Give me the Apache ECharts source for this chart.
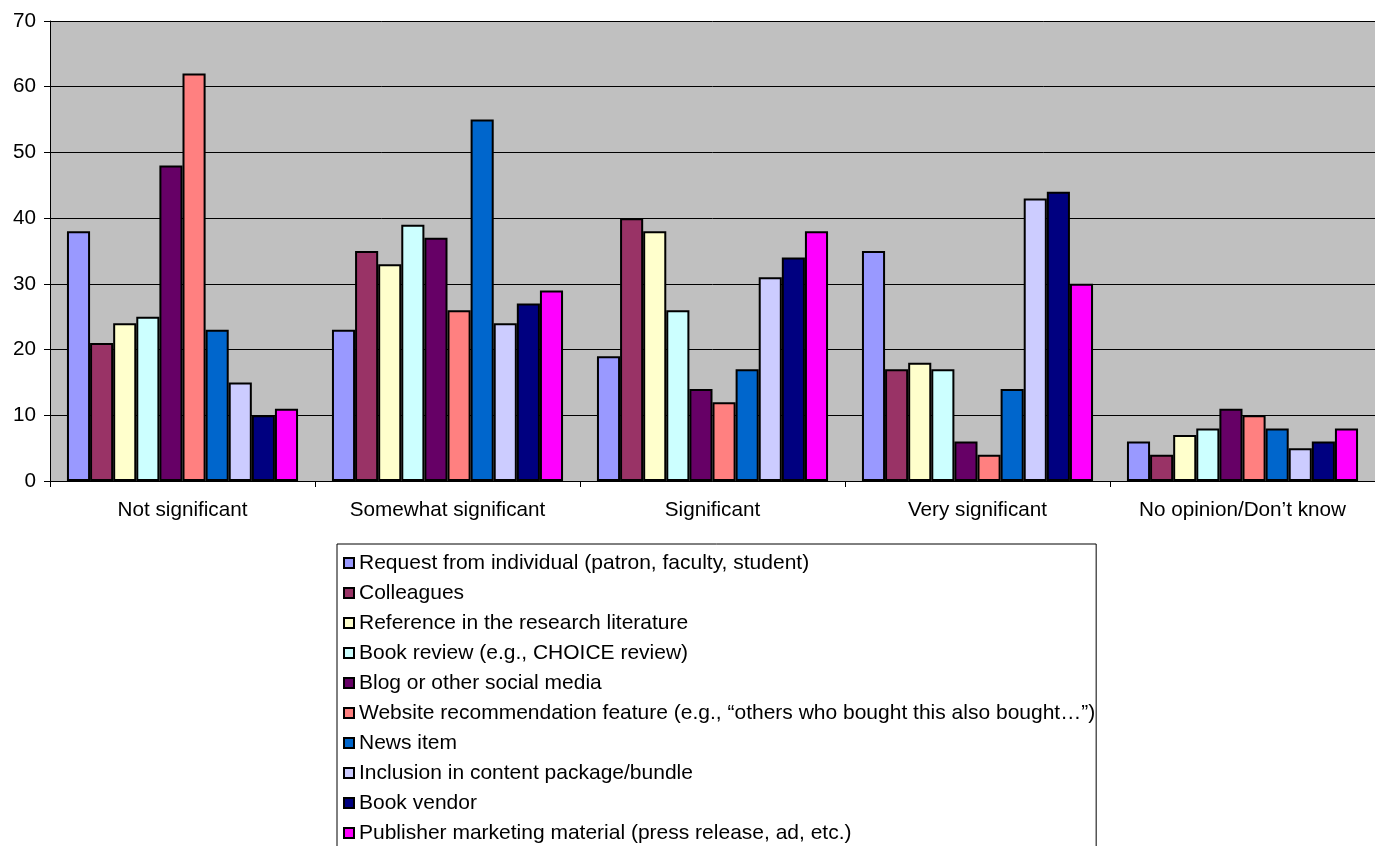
<!DOCTYPE html>
<html>
<head>
<meta charset="utf-8">
<script src="https://cdn.jsdelivr.net/npm/echarts@6/dist/echarts.min.js"></script>
<style>
  html, body { margin: 0; padding: 0; background: #fff; overflow: hidden; }
  #chart { width: 1375px; height: 846px; }
</style>
</head>
<body>
<div id="chart"></div>
<script>
// Response categories along the x axis
const categories = ['Not significant', 'Somewhat significant', 'Significant', 'Very significant', 'No opinion/Don\u2019t know'];

// One array per information source, values in category order
const requestFromIndividual = [38, 23, 19, 35, 6];
const colleagues            = [21, 35, 40, 17, 4];
const referenceLiterature   = [24, 33, 38, 18, 7];
const bookReview            = [25, 39, 26, 17, 8];
const blogSocialMedia       = [48, 37, 14, 6, 11];
const websiteRecommendation = [62, 26, 12, 4, 10];
const newsItem              = [23, 55, 17, 14, 8];
const contentPackage        = [15, 24, 31, 43, 5];
const bookVendor            = [10, 27, 34, 44, 6];
const publisherMarketing    = [11, 29, 38, 30, 8];

const seriesNames = [
  'Request from individual (patron, faculty, student)',
  'Colleagues',
  'Reference in the research literature',
  'Book review (e.g., CHOICE review)',
  'Blog or other social media',
  'Website recommendation feature (e.g., \u201cothers who bought this also bought\u2026\u201d)',
  'News item',
  'Inclusion in content package/bundle',
  'Book vendor',
  'Publisher marketing material (press release, ad, etc.)'
];
const seriesValues = [
  requestFromIndividual, colleagues, referenceLiterature, bookReview, blogSocialMedia,
  websiteRecommendation, newsItem, contentPackage, bookVendor, publisherMarketing
];
const seriesColors = ['#9999FF', '#993366', '#FFFFCC', '#CCFFFF', '#660066',
                      '#FF8080', '#0066CC', '#CCCCFF', '#000080', '#FF00FF'];

// Y axis scale
const yMin = 0, yMax = 70, yStep = 10;

const font = 'Arial, "Liberation Sans", sans-serif';

const chart = echarts.init(document.getElementById('chart'), null, { renderer: 'canvas' });

chart.setOption({
  animation: false,
  textStyle: { fontFamily: font },
  grid: {
    left: 50, right: -8, top: 21, bottom: 365,
    show: true, backgroundColor: '#C0C0C0', borderWidth: 0
  },
  legend: {
    orient: 'vertical',
    left: 337, top: 544,
    height: 400,
    padding: [8, 1, 8, 6],
    backgroundColor: '#fff',
    borderColor: '#000', borderWidth: 1,
    itemWidth: 10, itemHeight: 10, itemGap: 8,
    icon: 'rect',
    textStyle: { fontFamily: font, fontSize: 21, color: '#000', lineHeight: 22 },
    data: seriesNames
  },
  xAxis: {
    type: 'category',
    data: categories,
    axisLine: { show: true, lineStyle: { color: '#000', width: 1 } },
    axisTick: { show: true, interval: 0, length: 6, lineStyle: { color: '#000' } },
    axisLabel: { interval: 0, color: '#000', fontSize: 20.7, fontFamily: font, margin: 19 },
    splitLine: { show: false }
  },
  yAxis: {
    type: 'value',
    min: yMin, max: yMax, interval: yStep,
    axisLine: { show: true, lineStyle: { color: '#000', width: 1 } },
    axisTick: { show: true, length: 6, lineStyle: { color: '#000' } },
    axisLabel: { color: '#000', fontSize: 20.7, fontFamily: font, margin: 14 },
    splitLine: { show: true, lineStyle: { color: '#000', width: 1 } }
  },
  series: seriesNames.map((name, i) => ({
    name: name,
    type: 'bar',
    data: seriesValues[i],
    barGap: '0%',
    barCategoryGap: '12.8%',
    itemStyle: { color: seriesColors[i], borderColor: '#000', borderWidth: 2 }
  }))
});
</script>
</body>
</html>
